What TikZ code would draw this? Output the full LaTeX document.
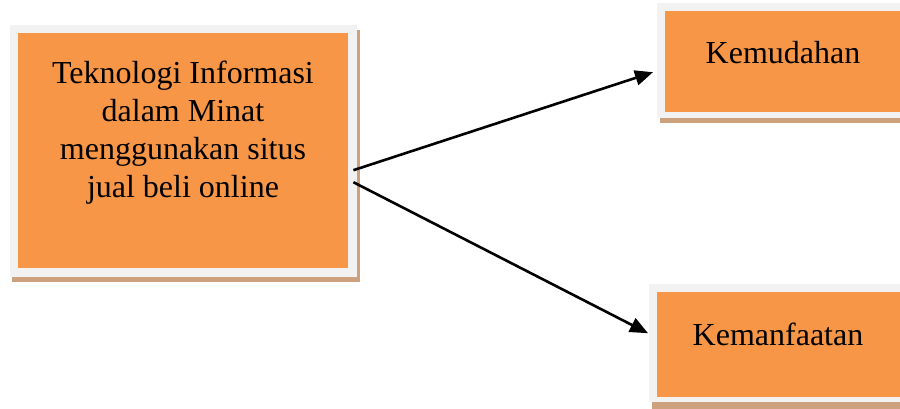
\documentclass[tikz,border=0pt]{standalone}
\usepackage{fontspec}
\setmainfont{Liberation Serif}
\usetikzlibrary{arrows.meta}
\definecolor{boxorange}{HTML}{F79646}
\definecolor{framegray}{HTML}{F2F2F2}
\definecolor{shadowtan}{HTML}{CDA07E}
\begin{document}
\begin{tikzpicture}[x=1pt,y=-1pt,
  shadowbox/.style={fill=shadowtan,draw=none,inner sep=0pt,anchor=north west},
  framebox/.style={fill=framegray,draw=none,inner sep=0pt,anchor=north west},
  orangebox/.style={fill=boxorange,draw=none,inner sep=0pt,anchor=north west},
  label/.style={font=\fontsize{32}{38}\selectfont,align=center,inner sep=0pt},
  arr/.style={line width=2.6pt,-{Triangle[length=18pt,width=15pt]}}]
\useasboundingbox (0,0) rectangle (900,408);
% left box
\node[shadowbox,minimum width=348pt,minimum height=252pt] (lshadow) at (12,30) {};
\node[framebox,minimum width=347pt,minimum height=252pt] (lframe) at (10,25) {};
\node[orangebox,minimum width=330pt,minimum height=235pt] (lbox) at (18,33) {};
\node[label] (ltext) at (183,133) {Teknologi Informasi\\dalam Minat\\menggunakan situs\\jual beli online};
% Kemudahan box
\node[shadowbox,minimum width=260pt,minimum height=115pt] (kshadow) at (660,8) {};
\node[framebox,minimum width=260pt,minimum height=115pt] (kframe) at (657,3) {};
\node[orangebox,minimum width=250pt,minimum height=101pt] (kbox) at (665,11) {};
\node[label,anchor=base] (ktext) at (783,63) {Kemudahan};
% Kemanfaatan box
\node[shadowbox,minimum width=270pt,minimum height=130pt] (mshadow) at (652,289) {};
\node[framebox,minimum width=270pt,minimum height=118pt] (mframe) at (649,284) {};
\node[orangebox,minimum width=260pt,minimum height=105pt] (mbox) at (657,292) {};
\node[label,anchor=base] (mtext) at (778,345) {Kemanfaatan};
% arrows
\draw[arr] ([shift={(-4,19)}]lframe.east) -- ([shift={(-4,11.5)}]kframe.west);
\draw[arr] ([shift={(-4,31)}]lframe.east) -- ([shift={(-1,-10)}]mframe.west);
\end{tikzpicture}
\end{document}
